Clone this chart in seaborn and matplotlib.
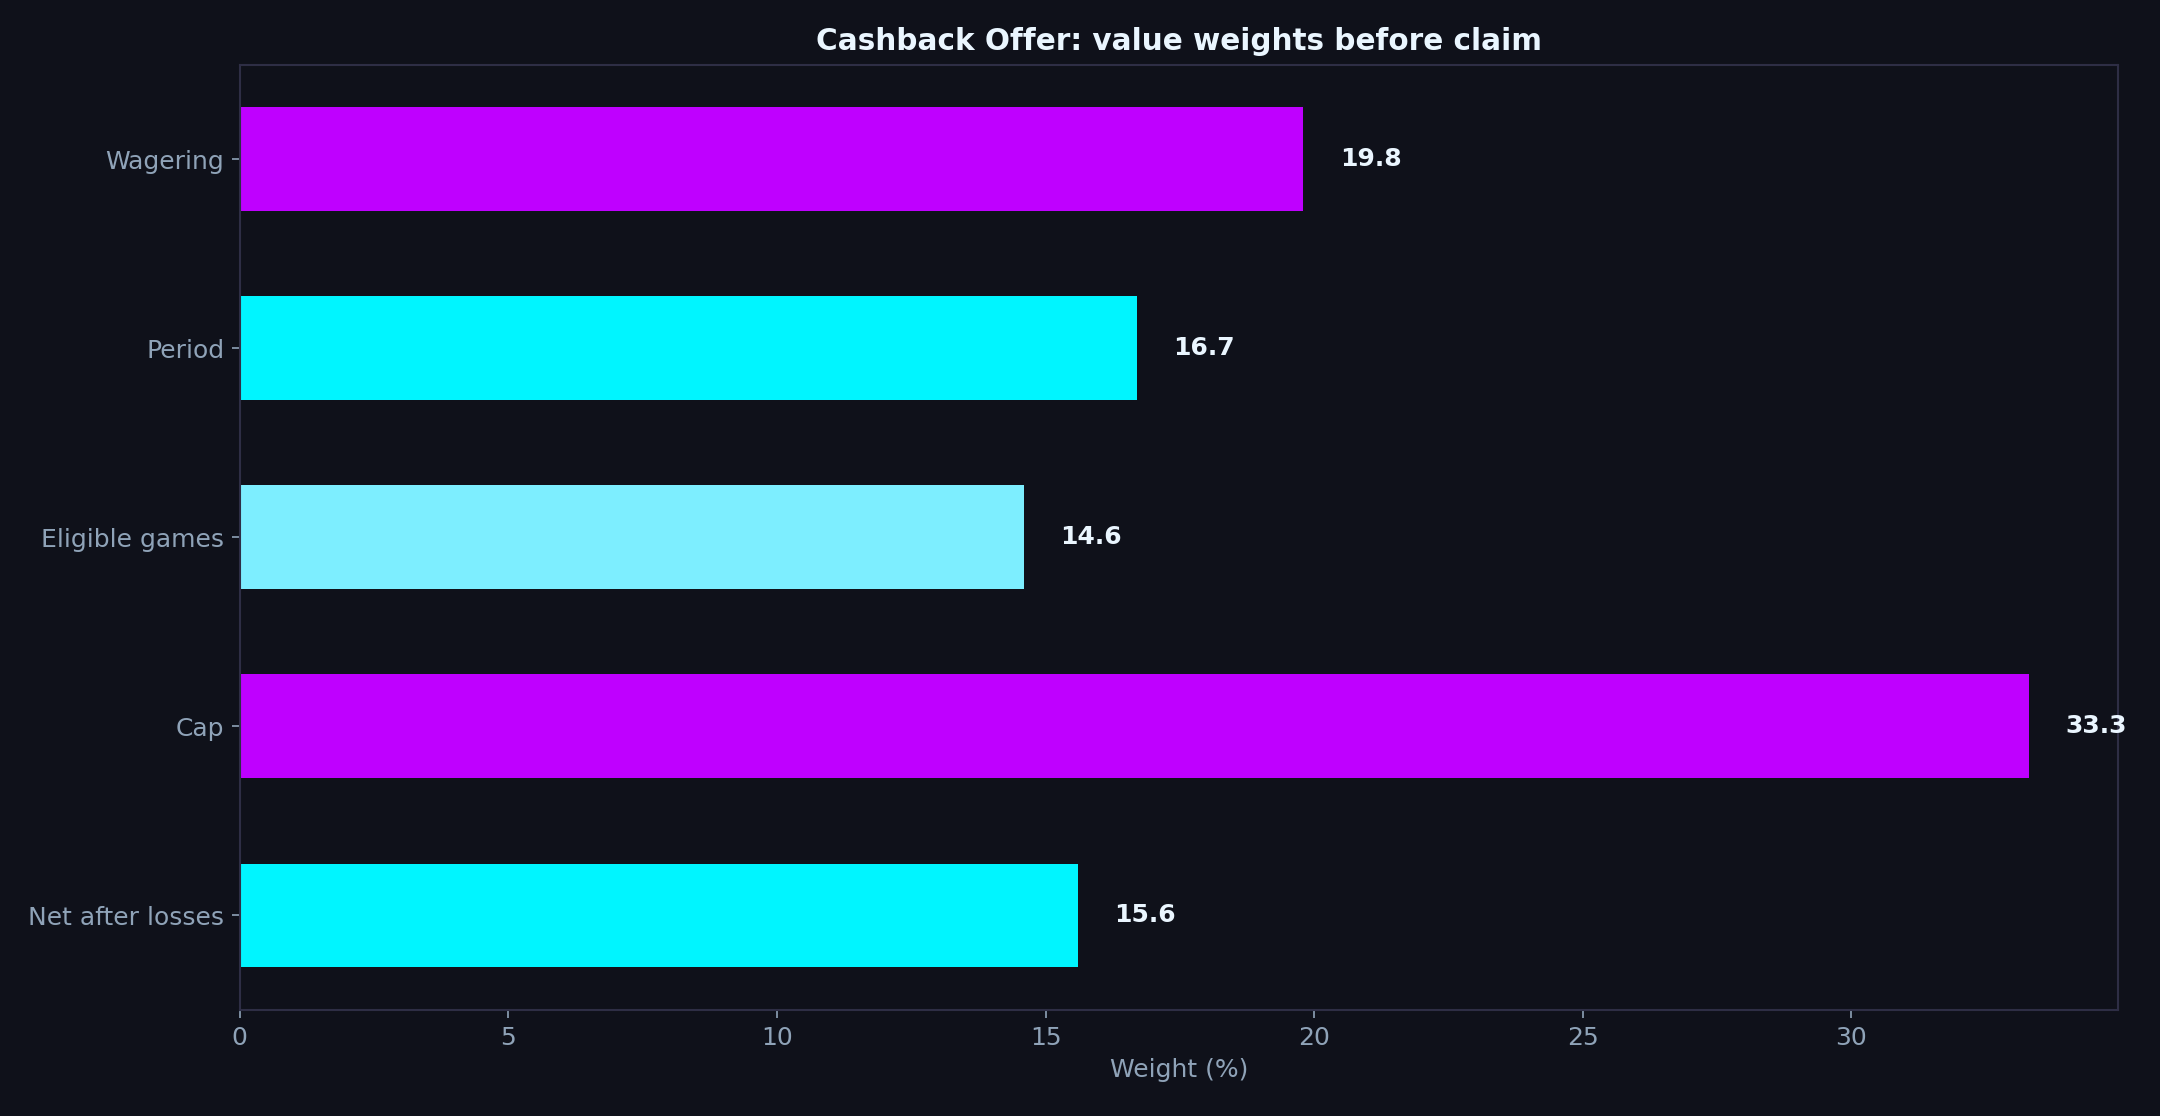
import matplotlib
matplotlib.use("Agg")
import matplotlib.pyplot as plt
import seaborn as sns
import pandas as pd

categories = ["Wagering", "Period", "Eligible games", "Cap", "Net after losses"]
weights = [19.8, 16.7, 14.6, 33.3, 15.6]
bar_colors = ["#BF00FF", "#00F5FF", "#7DEEFF", "#BF00FF", "#00F5FF"]

bg = "#0F111A"
spine_c = "#2E2E45"
tick_c = "#8FA3B8"

sns.set_theme(style="dark")
plt.rcParams["font.family"] = ["DejaVu Sans"]

df = pd.DataFrame({"category": categories, "weight": weights})

fig, ax = plt.subplots(figsize=(14.4, 7.44), dpi=150)
fig.patch.set_facecolor(bg)
ax.set_facecolor(bg)

sns.barplot(data=df, x="weight", y="category", hue="category",
            palette=bar_colors, width=0.55, legend=False, ax=ax,
            saturation=1, linewidth=0, edgecolor="none")

# value labels
for i, v in enumerate(weights):
    ax.text(v + 0.68, i, f"{v:.1f}", va="center", ha="left",
            color="#EAF6FF", fontsize=12, fontweight="bold")

ax.set_xlim(0, max(weights) * 1.05)
ax.set_ylim(4.5, -0.5)
ax.set_xlabel("Weight (%)", color=tick_c, fontsize=12)
ax.set_ylabel("")
ax.set_title("Cashback Offer: value weights before claim", color="#EAF6FF",
             fontsize=14.2, fontweight="bold", pad=7)

ax.tick_params(axis="both", colors=tick_c, labelsize=12, length=4,
               width=0.8, bottom=True, left=True)
ax.grid(False)
for s in ax.spines.values():
    s.set_visible(True)
    s.set_color(spine_c)
    s.set_linewidth(1.0)

fig.subplots_adjust(left=0.111, right=0.9806, top=0.9418, bottom=0.095)
fig.savefig("out.png", dpi=150, facecolor=bg)
